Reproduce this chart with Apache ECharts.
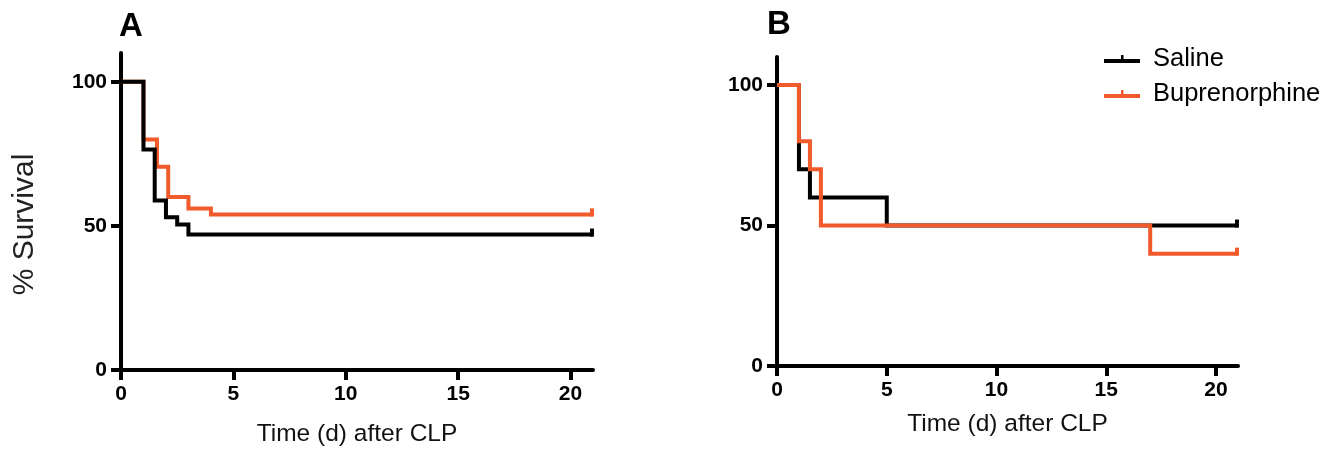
<!DOCTYPE html>
<html>
<head>
<meta charset="utf-8">
<script src="https://cdn.jsdelivr.net/npm/echarts@6/dist/echarts.min.js"></script>
<style>
  html, body { margin: 0; background: #fff; }
  #chart { width: 1336px; height: 451px; }
</style>
</head>
<body>
<div id="chart"></div>
<script>
const FONT = '"Liberation Sans", Arial, Helvetica, sans-serif'
const ORANGE = '#f15a2b'
const BLACK = '#000000'

// panel A (Kaplan-Meier steps: day of event, survival % after it)
const daysA_saline = [0, 1, 1.5, 2, 2.5, 3, 21]
const survA_saline = [100, 76.5, 58.8, 53, 50.5, 47, 47]
const daysA_bup = [0, 1, 1.6, 2.1, 3, 4, 21]
const survA_bup = [100, 80, 70.5, 60, 56, 54, 54]

// panel B
const daysB_saline = [0, 1, 1.5, 5, 21]
const survB_saline = [100, 70, 60, 50, 50]
const daysB_bup = [0, 1, 1.5, 2, 17, 21]
const survB_bup = [100, 80, 70, 50, 40, 40]

const xTicks = [0, 5, 10, 15, 20]
const yTicks = [0, 50, 100]
const X_MAX = 21
const Y_MAX = 110
const legendNames = ['Saline', 'Buprenorphine']

function km(name, days, surv, color, idx, z) {
  return {
    name,
    type: 'line',
    step: 'end',
    xAxisIndex: idx,
    yAxisIndex: idx,
    data: days.map((d, i) => [d, surv[i]]),
    lineStyle: { color, width: 4, cap: 'butt', join: 'miter' },
    itemStyle: { color },
    // censor tick at the end of follow-up
    symbol: (v) => (v[0] === X_MAX ? 'rect' : 'none'),
    symbolSize: [4, 8],
    symbolOffset: [-1, -2],
    z,
    emphasis: { disabled: true },
  }
}

function xAxis(gridIndex, nameGap) {
  return {
    type: 'value',
    gridIndex,
    min: 0,
    max: X_MAX,
    name: 'Time (d) after CLP',
    nameLocation: 'middle',
    nameGap,
    nameTextStyle: { fontFamily: FONT, fontSize: 24.5, color: '#111' },
    axisLine: { show: true, onZero: false, lineStyle: { color: BLACK, width: 4 } },
    axisTick: { show: true, customValues: xTicks, length: 10, lineStyle: { color: BLACK, width: 4 } },
    axisLabel: { customValues: xTicks, margin: 14, fontFamily: FONT, fontSize: 21, fontWeight: 'bold', color: BLACK },
    splitLine: { show: false },
  }
}

function yAxis(gridIndex, name) {
  return {
    type: 'value',
    gridIndex,
    min: 0,
    max: Y_MAX,
    name,
    nameLocation: 'middle',
    nameGap: 81,
    nameTextStyle: { fontFamily: FONT, fontSize: 30, color: '#222', padding: [0, 26, 0, 0] },
    axisLine: { show: true, onZero: false, lineStyle: { color: BLACK, width: 4 } },
    axisTick: { show: true, customValues: yTicks, length: 10, lineStyle: { color: BLACK, width: 4 } },
    axisLabel: { customValues: yTicks, margin: 14, fontFamily: FONT, fontSize: 21, fontWeight: 'bold', color: BLACK },
    splitLine: { show: false },
  }
}

const chart = echarts.init(document.getElementById('chart'))
chart.setOption({
  animation: false,
  backgroundColor: '#fff',
  title: [
    { text: 'A', left: 119, top: 10, padding: 0, textStyle: { fontFamily: FONT, fontSize: 33, fontWeight: 'bold', color: BLACK } },
    { text: 'B', left: 767, top: 8, padding: 0, textStyle: { fontFamily: FONT, fontSize: 33, fontWeight: 'bold', color: BLACK } },
  ],
  legend: {
    data: legendNames,
    orient: 'vertical',
    left: 1099,
    top: 41,
    icon: 'path://M0,4H36V8H0Z M17,0H19.5V4H17Z',
    itemWidth: 36,
    itemHeight: 8,
    itemGap: 9,
    selectedMode: false,
    itemStyle: { borderWidth: 0 },
    textStyle: { fontFamily: FONT, fontSize: 25.5, color: BLACK, padding: [0, 0, 0, 8] },
  },
  grid: [
    { left: 121, top: 53, width: 472, height: 317, outerBoundsMode: 'none' },
    { left: 777, top: 57, width: 461, height: 309, outerBoundsMode: 'none' },
  ],
  xAxis: [xAxis(0, 52), xAxis(1, 46)],
  yAxis: [yAxis(0, '% Survival'), yAxis(1, '')],
  series: [
    km('Buprenorphine', daysA_bup, survA_bup, ORANGE, 0, 2),
    km('Saline', daysA_saline, survA_saline, BLACK, 0, 3),
    km('Saline', daysB_saline, survB_saline, BLACK, 1, 2),
    km('Buprenorphine', daysB_bup, survB_bup, ORANGE, 1, 3),
  ],
})
window.addEventListener('resize', () => chart.resize())
</script>
</body>
</html>
